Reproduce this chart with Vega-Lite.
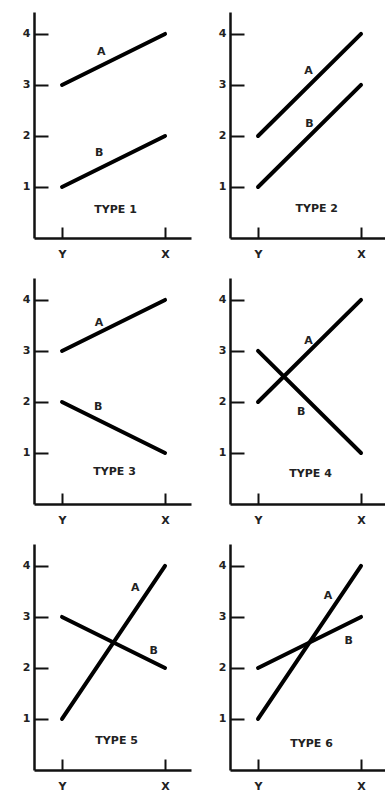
{
  "$schema": "https://vega.github.io/schema/vega-lite/v6.json",
  "background": "white",
  "padding": {"left": 22, "top": 12, "right": 0, "bottom": 0},
  "data": {"values": [
    {"type": "TYPE 1", "kind": "line", "series": "A", "x": 0, "y": 3},
    {"type": "TYPE 1", "kind": "line", "series": "A", "x": 1, "y": 4},
    {"type": "TYPE 1", "kind": "line", "series": "B", "x": 0, "y": 1},
    {"type": "TYPE 1", "kind": "line", "series": "B", "x": 1, "y": 2},
    {"type": "TYPE 2", "kind": "line", "series": "A", "x": 0, "y": 2},
    {"type": "TYPE 2", "kind": "line", "series": "A", "x": 1, "y": 4},
    {"type": "TYPE 2", "kind": "line", "series": "B", "x": 0, "y": 1},
    {"type": "TYPE 2", "kind": "line", "series": "B", "x": 1, "y": 3},
    {"type": "TYPE 3", "kind": "line", "series": "A", "x": 0, "y": 3},
    {"type": "TYPE 3", "kind": "line", "series": "A", "x": 1, "y": 4},
    {"type": "TYPE 3", "kind": "line", "series": "B", "x": 0, "y": 2},
    {"type": "TYPE 3", "kind": "line", "series": "B", "x": 1, "y": 1},
    {"type": "TYPE 4", "kind": "line", "series": "A", "x": 0, "y": 2},
    {"type": "TYPE 4", "kind": "line", "series": "A", "x": 1, "y": 4},
    {"type": "TYPE 4", "kind": "line", "series": "B", "x": 0, "y": 3},
    {"type": "TYPE 4", "kind": "line", "series": "B", "x": 1, "y": 1},
    {"type": "TYPE 5", "kind": "line", "series": "A", "x": 0, "y": 1},
    {"type": "TYPE 5", "kind": "line", "series": "A", "x": 1, "y": 4},
    {"type": "TYPE 5", "kind": "line", "series": "B", "x": 0, "y": 3},
    {"type": "TYPE 5", "kind": "line", "series": "B", "x": 1, "y": 2},
    {"type": "TYPE 6", "kind": "line", "series": "A", "x": 0, "y": 1},
    {"type": "TYPE 6", "kind": "line", "series": "A", "x": 1, "y": 4},
    {"type": "TYPE 6", "kind": "line", "series": "B", "x": 0, "y": 2},
    {"type": "TYPE 6", "kind": "line", "series": "B", "x": 1, "y": 3},
    {"type": "TYPE 1", "kind": "label", "label": "A", "x": 0.38, "y": 3.65},
    {"type": "TYPE 1", "kind": "label", "label": "B", "x": 0.36, "y": 1.67},
    {"type": "TYPE 2", "kind": "label", "label": "A", "x": 0.49, "y": 3.27},
    {"type": "TYPE 2", "kind": "label", "label": "B", "x": 0.5, "y": 2.24},
    {"type": "TYPE 3", "kind": "label", "label": "A", "x": 0.36, "y": 3.55},
    {"type": "TYPE 3", "kind": "label", "label": "B", "x": 0.35, "y": 1.9},
    {"type": "TYPE 4", "kind": "label", "label": "A", "x": 0.49, "y": 3.2},
    {"type": "TYPE 4", "kind": "label", "label": "B", "x": 0.42, "y": 1.8},
    {"type": "TYPE 5", "kind": "label", "label": "A", "x": 0.71, "y": 3.57},
    {"type": "TYPE 5", "kind": "label", "label": "B", "x": 0.89, "y": 2.33},
    {"type": "TYPE 6", "kind": "label", "label": "A", "x": 0.68, "y": 3.41},
    {"type": "TYPE 6", "kind": "label", "label": "B", "x": 0.88, "y": 2.53},
    {"type": "TYPE 1", "kind": "title", "label": "TYPE 1", "x": 0.52, "y": 0.55},
    {"type": "TYPE 2", "kind": "title", "label": "TYPE 2", "x": 0.57, "y": 0.57},
    {"type": "TYPE 3", "kind": "title", "label": "TYPE 3", "x": 0.51, "y": 0.63},
    {"type": "TYPE 4", "kind": "title", "label": "TYPE 4", "x": 0.51, "y": 0.59},
    {"type": "TYPE 5", "kind": "title", "label": "TYPE 5", "x": 0.53, "y": 0.57},
    {"type": "TYPE 6", "kind": "title", "label": "TYPE 6", "x": 0.52, "y": 0.51}
  ]},
  "columns": 2,
  "spacing": {"column": 27, "row": 19},
  "concat": [
    {"transform": [{"filter": "datum.type == 'TYPE 1'"}], "width": 157, "height": 226,
     "encoding": {
      "x": {"field": "x", "type": "quantitative", "scale": {"domain": [-0.272, 1.252], "nice": false, "zero": false},
        "axis": {"values": [0, 1], "labelExpr": "datum.value == 0 ? 'Y' : 'X'", "title": null}},
      "y": {"field": "y", "type": "quantitative", "scale": {"domain": [0, 4.43], "nice": false, "zero": false},
        "axis": {"values": [1, 2, 3, 4], "title": null}}},
     "layer": [
      {"transform": [{"filter": "datum.kind == 'line'"}], "mark": {"type": "line", "color": "black", "strokeWidth": 4, "strokeCap": "round"}, "encoding": {"detail": {"field": "series", "type": "nominal"}}},
      {"transform": [{"filter": "datum.kind != 'line'"}], "mark": {"type": "text"}, "encoding": {"text": {"field": "label", "type": "nominal"}}}]},
    {"transform": [{"filter": "datum.type == 'TYPE 2'"}], "width": 157, "height": 226,
     "encoding": {
      "x": {"field": "x", "type": "quantitative", "scale": {"domain": [-0.272, 1.252], "nice": false, "zero": false},
        "axis": {"values": [0, 1], "labelExpr": "datum.value == 0 ? 'Y' : 'X'", "title": null}},
      "y": {"field": "y", "type": "quantitative", "scale": {"domain": [0, 4.43], "nice": false, "zero": false},
        "axis": {"values": [1, 2, 3, 4], "title": null}}},
     "layer": [
      {"transform": [{"filter": "datum.kind == 'line'"}], "mark": {"type": "line", "color": "black", "strokeWidth": 4, "strokeCap": "round"}, "encoding": {"detail": {"field": "series", "type": "nominal"}}},
      {"transform": [{"filter": "datum.kind != 'line'"}], "mark": {"type": "text"}, "encoding": {"text": {"field": "label", "type": "nominal"}}}]},
    {"transform": [{"filter": "datum.type == 'TYPE 3'"}], "width": 157, "height": 226,
     "encoding": {
      "x": {"field": "x", "type": "quantitative", "scale": {"domain": [-0.272, 1.252], "nice": false, "zero": false},
        "axis": {"values": [0, 1], "labelExpr": "datum.value == 0 ? 'Y' : 'X'", "title": null}},
      "y": {"field": "y", "type": "quantitative", "scale": {"domain": [0, 4.43], "nice": false, "zero": false},
        "axis": {"values": [1, 2, 3, 4], "title": null}}},
     "layer": [
      {"transform": [{"filter": "datum.kind == 'line'"}], "mark": {"type": "line", "color": "black", "strokeWidth": 4, "strokeCap": "round"}, "encoding": {"detail": {"field": "series", "type": "nominal"}}},
      {"transform": [{"filter": "datum.kind != 'line'"}], "mark": {"type": "text"}, "encoding": {"text": {"field": "label", "type": "nominal"}}}]},
    {"transform": [{"filter": "datum.type == 'TYPE 4'"}], "width": 157, "height": 226,
     "encoding": {
      "x": {"field": "x", "type": "quantitative", "scale": {"domain": [-0.272, 1.252], "nice": false, "zero": false},
        "axis": {"values": [0, 1], "labelExpr": "datum.value == 0 ? 'Y' : 'X'", "title": null}},
      "y": {"field": "y", "type": "quantitative", "scale": {"domain": [0, 4.43], "nice": false, "zero": false},
        "axis": {"values": [1, 2, 3, 4], "title": null}}},
     "layer": [
      {"transform": [{"filter": "datum.kind == 'line'"}], "mark": {"type": "line", "color": "black", "strokeWidth": 4, "strokeCap": "round"}, "encoding": {"detail": {"field": "series", "type": "nominal"}}},
      {"transform": [{"filter": "datum.kind != 'line'"}], "mark": {"type": "text"}, "encoding": {"text": {"field": "label", "type": "nominal"}}}]},
    {"transform": [{"filter": "datum.type == 'TYPE 5'"}], "width": 157, "height": 226,
     "encoding": {
      "x": {"field": "x", "type": "quantitative", "scale": {"domain": [-0.272, 1.252], "nice": false, "zero": false},
        "axis": {"values": [0, 1], "labelExpr": "datum.value == 0 ? 'Y' : 'X'", "title": null}},
      "y": {"field": "y", "type": "quantitative", "scale": {"domain": [0, 4.43], "nice": false, "zero": false},
        "axis": {"values": [1, 2, 3, 4], "title": null}}},
     "layer": [
      {"transform": [{"filter": "datum.kind == 'line'"}], "mark": {"type": "line", "color": "black", "strokeWidth": 4, "strokeCap": "round"}, "encoding": {"detail": {"field": "series", "type": "nominal"}}},
      {"transform": [{"filter": "datum.kind != 'line'"}], "mark": {"type": "text"}, "encoding": {"text": {"field": "label", "type": "nominal"}}}]},
    {"transform": [{"filter": "datum.type == 'TYPE 6'"}], "width": 157, "height": 226,
     "encoding": {
      "x": {"field": "x", "type": "quantitative", "scale": {"domain": [-0.272, 1.252], "nice": false, "zero": false},
        "axis": {"values": [0, 1], "labelExpr": "datum.value == 0 ? 'Y' : 'X'", "title": null}},
      "y": {"field": "y", "type": "quantitative", "scale": {"domain": [0, 4.43], "nice": false, "zero": false},
        "axis": {"values": [1, 2, 3, 4], "title": null}}},
     "layer": [
      {"transform": [{"filter": "datum.kind == 'line'"}], "mark": {"type": "line", "color": "black", "strokeWidth": 4, "strokeCap": "round"}, "encoding": {"detail": {"field": "series", "type": "nominal"}}},
      {"transform": [{"filter": "datum.kind != 'line'"}], "mark": {"type": "text"}, "encoding": {"text": {"field": "label", "type": "nominal"}}}]}
  ],
  "config": {
    "view": {"stroke": null},
    "text": {"color": "#222", "fontSize": 11, "fontWeight": "bold", "font": "DejaVu Sans"},
    "axis": {"grid": false, "domainColor": "#111", "tickColor": "#111", "labelColor": "#222", "labelFont": "DejaVu Sans", "labelFontSize": 11, "labelFontWeight": "bold", "tickWidth": 2, "domainWidth": 2.5},
    "axisX": {"tickSize": -11, "labelPadding": 21},
    "axisY": {"tickSize": -14, "labelPadding": 18}
  }
}
